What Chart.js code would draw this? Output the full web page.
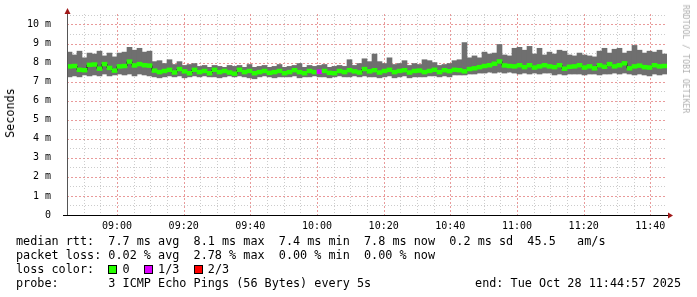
<!DOCTYPE html>
<html>
<head>
<meta charset="utf-8">
<script src="https://cdn.jsdelivr.net/npm/chart.js@4"></script>
<style>
  body { margin: 0; background: #fff; }
  #wrap { position: relative; width: 697px; height: 297px; overflow: hidden; font-family: "DejaVu Sans Mono", monospace; }
  #chart { position: absolute; left: 0; top: 0; }
  .rot { position: absolute; white-space: pre; }
  #ytitle { left: 10px; top: 113px; font-size: 11.8px; color: #000; transform: translate(-50%, -50%) rotate(-90deg); }
  #credit { left: 686px; top: 59px; font-size: 8.2px; color: #b0b0b0; transform: translate(-50%, -50%) rotate(90deg); }
  #legend { position: absolute; left: 16px; top: 234px; font-size: 11.8px; line-height: 14px; color: #000; white-space: pre; }
  .box { display: inline-block; width: 7px; height: 7px; border: 1px solid #000; margin-right: calc(1ch - 9px); vertical-align: -1px; }
  #endtxt { position: absolute; right: 16px; top: 276px; font-size: 11.8px; line-height: 14px; white-space: pre; }
</style>
</head>
<body>
<div id="wrap">
  <canvas id="chart" width="697" height="297"></canvas>
  <div id="ytitle" class="rot">Seconds</div>
  <div id="credit" class="rot">RRDTOOL / TOBI OETIKER</div>
  <div id="legend">median rtt:  7.7 ms avg  8.1 ms max  7.4 ms min  7.8 ms now  0.2 ms sd  45.5   am/s
packet loss: 0.02 % avg  2.78 % max  0.00 % min  0.00 % now
loss color:  <span class="box" style="background:#26ff00"></span> 0  <span class="box" style="background:#dd00ff"></span> 1/3  <span class="box" style="background:#ff0000"></span> 2/3
probe:       3 ICMP Echo Pings (56 Bytes) every 5s</div>
  <div id="endtxt">end: Tue Oct 28 11:44:57 2025</div>
</div>
<script>
// graph window: 08:45 -> 11:45, one sample every 1.5 min
const startMinute = 8 * 60 + 45;
const spanMinutes = 180;
const sampleMinutes = 1.5;

// median rtt per sample (ms)
const median = [
  7.80, 7.82, 7.62, 7.60, 7.88, 7.90, 7.68, 7.92, 7.72, 7.58,
  7.80, 7.82, 8.05, 7.85, 7.92, 7.86, 7.84, 7.58, 7.50, 7.56,
  7.62, 7.48, 7.66, 7.54, 7.44, 7.62, 7.50, 7.56, 7.44, 7.62,
  7.50, 7.56, 7.48, 7.42, 7.62, 7.50, 7.56, 7.44, 7.50, 7.56,
  7.46, 7.50, 7.56, 7.44, 7.50, 7.60, 7.50, 7.44, 7.56, 7.50,
  7.52, 7.56, 7.46, 7.44, 7.56, 7.50, 7.60, 7.54, 7.48, 7.66,
  7.54, 7.60, 7.48, 7.56, 7.62, 7.50, 7.56, 7.60, 7.48, 7.56,
  7.58, 7.50, 7.56, 7.62, 7.50, 7.60, 7.55, 7.62, 7.60, 7.54,
  7.66, 7.70, 7.76, 7.82, 7.86, 7.94, 8.06, 7.85, 7.82, 7.80,
  7.86, 7.76, 7.86, 7.74, 7.80, 7.86, 7.80, 7.76, 7.86, 7.68,
  7.78, 7.80, 7.86, 7.74, 7.80, 7.70, 7.86, 7.78, 7.92, 7.80,
  7.86, 7.96, 7.70, 7.80, 7.84, 7.76, 7.74, 7.86, 7.80, 7.82
];

// smoke upper edge (slowest ping)
const smokeMax = [
  8.55, 8.40, 8.60, 8.25, 8.50, 8.45, 8.60, 8.35, 8.50, 8.30,
  8.50, 8.55, 8.80, 8.65, 8.75, 8.55, 8.60, 8.05, 8.10, 7.95,
  8.15, 7.90, 8.05, 7.85, 7.90, 7.95, 7.80, 7.85, 7.75, 7.85,
  7.80, 7.75, 7.85, 7.80, 7.85, 7.75, 7.90, 7.75, 7.80, 7.85,
  7.75, 7.80, 7.90, 7.75, 7.80, 7.85, 7.95, 7.75, 7.85, 7.80,
  7.85, 7.90, 7.75, 7.80, 7.85, 7.80, 8.15, 7.85, 7.95, 8.20,
  8.05, 8.45, 8.05, 7.95, 8.25, 7.90, 7.95, 8.10, 7.85, 7.95,
  7.90, 8.15, 8.10, 8.00, 7.85, 7.90, 7.95, 8.10, 8.15, 9.05,
  8.25, 8.35, 8.25, 8.55, 8.45, 8.50, 8.95, 8.40, 8.35, 8.75,
  8.80, 8.65, 8.85, 8.45, 8.75, 8.40, 8.55, 8.45, 8.65, 8.60,
  8.40, 8.35, 8.50, 8.40, 8.35, 8.30, 8.60, 8.75, 8.50, 8.70,
  8.75, 8.50, 8.60, 8.90, 8.65, 8.50, 8.60, 8.55, 8.65, 8.45
];

// smoke lower edge (fastest ping)
const smokeMin = [
  7.25, 7.30, 7.25, 7.35, 7.30, 7.35, 7.30, 7.40, 7.30, 7.35,
  7.40, 7.35, 7.40, 7.30, 7.40, 7.35, 7.30, 7.25, 7.20, 7.25,
  7.30, 7.25, 7.30, 7.20, 7.25, 7.30, 7.25, 7.30, 7.25, 7.25,
  7.20, 7.25, 7.30, 7.25, 7.30, 7.25, 7.20, 7.15, 7.25, 7.30,
  7.25, 7.20, 7.25, 7.25, 7.25, 7.30, 7.20, 7.25, 7.25, 7.30,
  7.25, 7.25, 7.20, 7.25, 7.30, 7.25, 7.25, 7.30, 7.25, 7.30,
  7.25, 7.25, 7.20, 7.25, 7.30, 7.20, 7.25, 7.30, 7.20, 7.25,
  7.25, 7.25, 7.30, 7.30, 7.25, 7.30, 7.25, 7.35, 7.35, 7.35,
  7.40, 7.40, 7.45, 7.45, 7.50, 7.45, 7.50, 7.45, 7.50, 7.45,
  7.40, 7.45, 7.40, 7.45, 7.40, 7.45, 7.45, 7.35, 7.40, 7.35,
  7.40, 7.40, 7.40, 7.35, 7.40, 7.40, 7.35, 7.40, 7.40, 7.45,
  7.40, 7.45, 7.40, 7.35, 7.40, 7.35, 7.30, 7.40, 7.35, 7.40
];

// lost pings out of 3 per sample
const loss = new Array(120).fill(0);
loss[50] = 1;

const lossColors = ['#26ff00', '#dd00ff', '#ff0000'];
const yTicks = [0, 1, 2, 3, 4, 5, 6, 7, 8, 9, 10];

function timeLabel(v) {
  const m = startMinute + v;
  return String(Math.floor(m / 60)).padStart(2, '0') + ':' + String(m % 60).padStart(2, '0');
}

const centers = median.map((_, i) => i * sampleMinutes + sampleMinutes / 2);

// rrdtool style grid + axes with arrows
const rrdGrid = {
  id: 'rrdGrid',
  beforeDatasetsDraw(chart) {
    const { ctx, chartArea: a, scales: { x, y } } = chart;
    ctx.save();
    ctx.lineWidth = 1;
    for (let v = 0.5; v < 10.6; v += 0.5) {
      const py = Math.round(y.getPixelForValue(v)) + 0.5;
      const major = Number.isInteger(v);
      ctx.strokeStyle = major ? 'rgba(225,120,120,0.75)' : 'rgba(170,170,170,0.6)';
      ctx.setLineDash(major ? [2, 2] : [1, 2]);
      ctx.beginPath(); ctx.moveTo(a.left, py); ctx.lineTo(a.right, py); ctx.stroke();
    }
    for (let v = 5; v < spanMinutes; v += 5) {
      const px = Math.round(x.getPixelForValue(v)) + 0.5;
      const major = (v - 15) % 20 === 0;
      ctx.strokeStyle = major ? 'rgba(225,120,120,0.75)' : 'rgba(170,170,170,0.6)';
      ctx.setLineDash(major ? [2, 2] : [1, 2]);
      ctx.beginPath(); ctx.moveTo(px, a.top); ctx.lineTo(px, major ? a.bottom + 3 : a.bottom); ctx.stroke();
    }
    ctx.restore();
  },
  afterDatasetsDraw(chart) {
    const { ctx, chartArea: a } = chart;
    ctx.save();
    ctx.setLineDash([]);
    ctx.lineWidth = 1;
    ctx.strokeStyle = '#555';
    ctx.beginPath(); ctx.moveTo(a.left + 0.5, a.bottom); ctx.lineTo(a.left + 0.5, a.top - 1); ctx.stroke();
    ctx.strokeStyle = '#000';
    ctx.beginPath(); ctx.moveTo(a.left - 4, a.bottom + 0.5); ctx.lineTo(a.right + 2, a.bottom + 0.5); ctx.stroke();
    ctx.fillStyle = '#a01818';
    ctx.beginPath();
    ctx.moveTo(a.left + 0.5, a.top - 6); ctx.lineTo(a.left - 2.5, a.top); ctx.lineTo(a.left + 3.5, a.top);
    ctx.closePath(); ctx.fill();
    ctx.beginPath();
    ctx.moveTo(a.right + 6, a.bottom + 0.5); ctx.lineTo(a.right + 1, a.bottom - 2.5); ctx.lineTo(a.right + 1, a.bottom + 3.5);
    ctx.closePath(); ctx.fill();
    ctx.restore();
  }
};

new Chart(document.getElementById('chart'), {
  type: 'bar',
  data: {
    datasets: [
      {
        label: 'median',
        data: median.map((m, i) => ({ x: centers[i], y: [m - 0.1, m + 0.1] })),
        backgroundColor: loss.map(l => lossColors[l]),
        grouped: false, barPercentage: 1, categoryPercentage: 1, borderWidth: 0,
        order: 1
      },
      {
        type: 'line',
        label: 'steps',
        data: median.map((m, i) => ({ x: centers[i], y: m })),
        stepped: 'middle',
        borderColor: '#000', borderWidth: 1, pointRadius: 0, fill: false,
        order: 2
      },
      {
        label: 'smoke',
        data: smokeMin.map((lo, i) => ({ x: centers[i], y: [lo, smokeMax[i]] })),
        backgroundColor: '#6f6f6f',
        grouped: false, barPercentage: 1, categoryPercentage: 1, borderWidth: 0,
        order: 3
      }
    ]
  },
  options: {
    responsive: false,
    animation: false,
    layout: { padding: { left: 0, top: 13, right: 30, bottom: 0 } },
    plugins: { legend: { display: false }, tooltip: { enabled: false } },
    scales: {
      x: {
        type: 'linear', min: 0, max: spanMinutes, offset: false,
        grid: { display: false }, border: { display: false },
        afterFit: s => { s.height = 82; },
        ticks: {
          stepSize: 5, autoSkip: false, maxRotation: 0, padding: -3,
          color: '#000', font: { family: 'DejaVu Sans Mono', size: 10 },
          callback: v => ((v - 15) % 20 === 0 ? timeLabel(v) : '')
        }
      },
      y: {
        min: 0, max: 10.55,
        grid: { display: false }, border: { display: false },
        afterFit: s => { s.width = 67; },
        ticks: {
          stepSize: 1, includeBounds: false, padding: 8,
          color: '#000', font: { family: 'DejaVu Sans Mono', size: 10 },
          callback: v => (yTicks.includes(v) ? (v === 0 ? '0' : v + ' m') : '')
        }
      }
    }
  },
  plugins: [rrdGrid]
});
</script>
</body>
</html>
